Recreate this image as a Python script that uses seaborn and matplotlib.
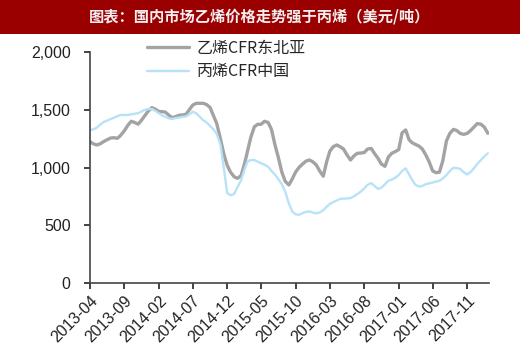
import numpy as np
import pandas as pd
import matplotlib
matplotlib.use("Agg")
import matplotlib.pyplot as plt
from matplotlib.patches import Rectangle
import seaborn as sns

# half-monthly readings, starting 2013-04-01
ethylene = [1223, 1205, 1195, 1205, 1225, 1240, 1255, 1258, 1253, 1280,
            1320, 1365, 1400, 1390, 1375, 1410, 1450, 1490, 1518, 1505,
            1485, 1483, 1480, 1455, 1431, 1440, 1452, 1455, 1460, 1500,
            1540, 1555, 1556, 1556, 1545, 1520, 1450, 1380, 1250, 1120,
            1020, 960, 920, 906, 930, 1030, 1137, 1260, 1353, 1374,
            1374, 1400, 1390, 1330, 1200, 1090, 960, 880, 849, 900,
            960, 1000, 1030, 1055, 1065, 1050, 1022, 970, 925, 1050,
            1140, 1180, 1195, 1180, 1160, 1110, 1065, 1100, 1123, 1125,
            1130, 1160, 1165, 1120, 1080, 1030, 1010, 1090, 1123, 1137,
            1155, 1300, 1325, 1240, 1215, 1200, 1185, 1160, 1110, 1050,
            970, 955, 960, 1060, 1230, 1295, 1330, 1320, 1295, 1287,
            1295, 1320, 1350, 1380, 1375, 1350, 1296]
propylene = [1325, 1330, 1345, 1370, 1395, 1405, 1420, 1430, 1445, 1455,
             1455, 1455, 1460, 1465, 1470, 1485, 1500, 1506, 1506, 1490,
             1470, 1450, 1440, 1425, 1420, 1428, 1432, 1438, 1442, 1460,
             1483, 1470, 1440, 1410, 1390, 1360, 1330, 1290, 1200, 1000,
             780, 760, 770, 830, 890, 980, 1050, 1065, 1065, 1050,
             1036, 1025, 1007, 970, 940, 900, 855, 790, 690, 620,
             595, 590, 605, 615, 620, 610, 603, 610, 630, 660,
             685, 700, 715, 728, 730, 732, 735, 750, 770, 790,
             820, 850, 865, 840, 815, 825, 855, 885, 895, 910,
             935, 970, 993, 940, 895, 850, 835, 840, 855, 863,
             870, 878, 885, 905, 935, 970, 998, 995, 988, 960,
             940, 960, 993, 1030, 1065, 1095, 1123]
series_names = ["乙烯CFR东北亚", "丙烯CFR中国"]
tick_labels = ["2013-04", "2013-09", "2014-02", "2014-07", "2014-12", "2015-05",
               "2015-10", "2016-03", "2016-08", "2017-01", "2017-06", "2017-11"]

dates = []
for k in range(len(ethylene)):
    base = pd.Timestamp("2013-04-01") + pd.DateOffset(months=k // 2)
    dates.append(base + pd.Timedelta(days=15 * (k % 2)))

df = pd.DataFrame({
    "date": dates * 2,
    "price": ethylene + propylene,
    "series": [series_names[0]] * len(ethylene) + [series_names[1]] * len(propylene),
})

sns.set_style("ticks")
plt.rcParams["font.family"] = ["Liberation Sans", "Noto Sans CJK SC", "DejaVu Sans"]

fig = plt.figure(figsize=(5.2, 3.54), dpi=100)
ax = fig.add_axes([90 / 520, 1 - 283 / 354, 399 / 520, 231 / 354])

sns.lineplot(data=df, x="date", y="price", hue="series", ax=ax,
             palette=["#a3a3a3", "#b8e2f8"], legend=False)
ax.lines[0].set_linewidth(2.4)
ax.lines[1].set_linewidth(1.7)

ax.set_ylim(0, 2000)
ax.set_yticks([0, 500, 1000, 1500, 2000])
ax.set_yticklabels(["0", "500", "1,000", "1,500", "2,000"])
ax.set_xlim(pd.Timestamp("2013-04-01"), pd.Timestamp("2018-02-06"))
ax.set_xticks([pd.Timestamp(t + "-01") for t in tick_labels])
ax.set_xticklabels(tick_labels, rotation=45, ha="right", rotation_mode="anchor")
ax.tick_params(axis="both", labelsize=11.5, colors="#222222", length=4, width=1.2)
ax.tick_params(axis="x", pad=3)
ax.tick_params(axis="y", pad=10)
ax.set_xlabel("")
ax.set_ylabel("")
sns.despine(ax=ax)
for s in ["left", "bottom"]:
    ax.spines[s].set_color("#444444")
    ax.spines[s].set_linewidth(1.2)

ax.legend(ax.lines, series_names, loc="upper left",
          bbox_to_anchor=(147 / 520, 1 - 40 / 354), bbox_transform=fig.transFigure,
          frameon=False, handlelength=2.6, handletextpad=0.5,
          labelspacing=0.4, borderpad=0, borderaxespad=0,
          prop={"family": ["Noto Sans CJK SC", "DejaVu Sans"], "size": 11.5})

# title banner
fig.patches.append(Rectangle((0, 1 - 34 / 354), 1, 34 / 354, transform=fig.transFigure,
                             facecolor="#9b0000", edgecolor="none", zorder=0))
fig.text(0.5, 1 - 17 / 354, "图表：国内市场乙烯价格走势强于丙烯（美元/吨）",
         ha="center", va="center", color="#f4eef0", fontsize=11, fontweight="bold",
         family=["Noto Sans CJK SC", "DejaVu Sans"])

fig.savefig("out.png", dpi=100)
